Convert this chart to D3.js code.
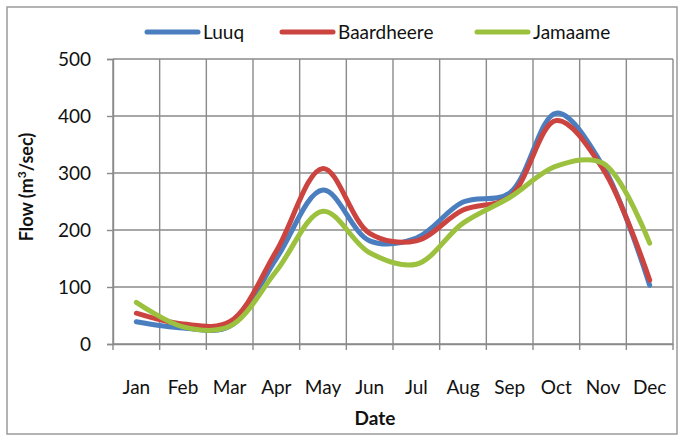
<!DOCTYPE html>
<html>
<head>
<meta charset="utf-8">
<script src="https://cdn.jsdelivr.net/npm/d3@7"></script>
<style>
  html, body { margin: 0; padding: 0; background: #fff; }
  svg { display: block; }
  text { font-family: Lato, "Open Sans", sans-serif; fill: #111; }
</style>
</head>
<body>
<svg id="chart" width="681" height="437"></svg>
<script>
const months = ["Jan","Feb","Mar","Apr","May","Jun","Jul","Aug","Sep","Oct","Nov","Dec"];
const luuq       = [39, 28, 31, 150, 270, 181, 186, 249, 265, 405, 312, 103];
const baardheere = [54, 35, 39, 163, 308, 194, 181, 235, 258, 392, 307, 112];
const jamaame    = [73, 30, 31, 128, 233, 160, 140, 212, 257, 312, 317, 177];
const yTicks = [0, 100, 200, 300, 400, 500];
const seriesNames = ["Luuq", "Baardheere", "Jamaame"];
const seriesColors = ["#4a7ebf", "#cc4440", "#9bc13f"];

(function () {
const svg = d3.select("#chart");
const pL = 113, pR = 673, pT = 59, pB = 344;

// outer frame
svg.append("rect").attr("x", 7).attr("y", 7).attr("width", 670).attr("height", 427)
  .attr("fill", "none").attr("stroke", "#9a9a9a").attr("stroke-width", 1.5);

const x = d3.scaleBand().domain(months).range([pL, pR]);
const y = d3.scaleLinear().domain([0, 500]).range([pB, pT]);

const gridColor = "#8a8a8a";
// horizontal grid
svg.append("g").selectAll("line").data(yTicks).join("line")
  .attr("x1", pL).attr("x2", pR)
  .attr("y1", d => y(d)).attr("y2", d => y(d))
  .attr("stroke", gridColor).attr("stroke-width", 1.4);
// vertical grid (band boundaries)
const bounds = months.map(m => x(m)).concat([x.range()[1]]);
svg.append("g").selectAll("line").data(bounds).join("line")
  .attr("x1", d => d).attr("x2", d => d)
  .attr("y1", pT).attr("y2", pB + 6)
  .attr("stroke", gridColor).attr("stroke-width", 1.4);

// y axis
const yAxis = svg.append("g").attr("transform", `translate(${pL},0)`)
  .call(d3.axisLeft(y).tickValues(yTicks).tickSize(6).tickPadding(16));
yAxis.select(".domain").attr("stroke", gridColor).attr("stroke-width", 1.4);
yAxis.selectAll(".tick line").attr("stroke", gridColor).attr("stroke-width", 1.4);
yAxis.selectAll(".tick text").attr("font-size", 19).attr("font-family", "Lato, sans-serif").attr("fill", "#111");

// x axis
const xAxis = svg.append("g").attr("transform", `translate(0,${pB})`)
  .call(d3.axisBottom(x).tickSize(0));
xAxis.select(".domain").attr("stroke", gridColor).attr("stroke-width", 1.4);
xAxis.selectAll(".tick text").attr("font-size", 19).attr("font-family", "Lato, sans-serif")
  .attr("fill", "#111").attr("y", 50).attr("dy", 0);

// axis titles
svg.append("text").attr("x", 375).attr("y", 425).attr("text-anchor", "middle")
  .attr("font-size", 19).attr("font-weight", "bold").text("Date");
const yt = svg.append("text").attr("transform", "translate(33,187) rotate(-90)")
  .attr("text-anchor", "middle").attr("font-size", 18).attr("font-weight", "bold");
yt.append("tspan").text("Flow (m");
yt.append("tspan").attr("font-size", 12).attr("dy", -7).text("3");
yt.append("tspan").attr("dy", 7).text("/sec)");

// lines
const data = [luuq, baardheere, jamaame];
const line = d3.line()
  .x((d, i) => x(months[i]) + x.bandwidth() / 2)
  .y(d => y(d))
  .curve(d3.curveCatmullRom.alpha(0.5));
svg.append("g").selectAll("path").data(data).join("path")
  .attr("d", d => line(d))
  .attr("fill", "none")
  .attr("stroke", (d, i) => seriesColors[i])
  .attr("stroke-width", 5)
  .attr("stroke-linecap", "round")
  .attr("stroke-linejoin", "round");

// legend
const legendX = [147, 282, 477];
const lg = svg.append("g").selectAll("g").data(seriesNames).join("g")
  .attr("transform", (d, i) => `translate(${legendX[i]},32)`);
lg.append("line").attr("x1", 0).attr("x2", 51).attr("y1", 0).attr("y2", 0)
  .attr("stroke", (d, i) => seriesColors[i]).attr("stroke-width", 5).attr("stroke-linecap", "round");
lg.append("text").attr("x", 56).attr("y", 7).attr("font-size", 19).text(d => d);
})();
</script>
</body>
</html>
